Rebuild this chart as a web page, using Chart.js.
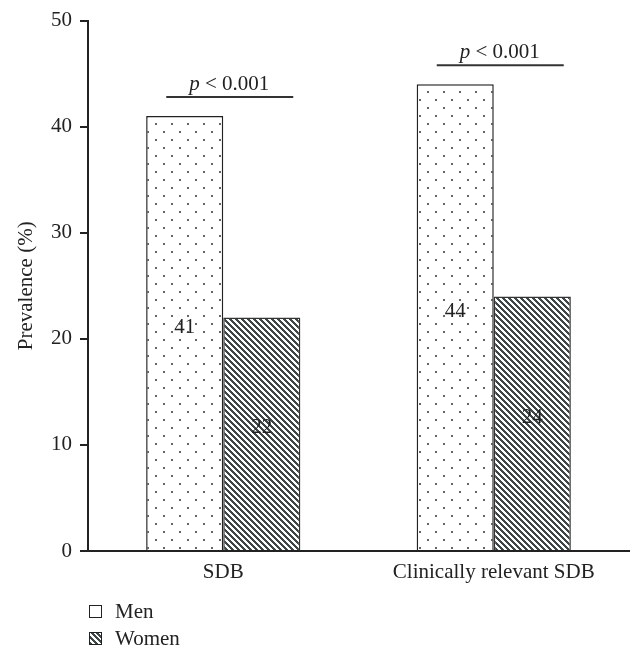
<!DOCTYPE html>
<html>
<head>
<meta charset="utf-8">
<script src="https://cdn.jsdelivr.net/npm/chart.js@4/dist/chart.umd.min.js"></script>
<style>
    html, body { margin: 0; padding: 0; background: #fff; }
    #wrap { position: relative; width: 643px; height: 660px; }
    #legend { position: absolute; left: 89px; top: 598px; font-family: "Liberation Serif", serif; font-size: 21px; color: #222; }
    .item { display: flex; align-items: center; height: 27px; }
    .box { width: 11px; height: 11px; border: 1px solid #222; margin-right: 13px; }
    .men { background: #fff; }
    .women { background: repeating-linear-gradient(45deg, #3d4747 0 2px, #fff 2px 4px); }
</style>
</head>
<body>
<div id="wrap">
    <canvas id="chart" width="643" height="660"></canvas>
    <div id="legend">
        <div class="item"><span class="box men"></span>Men</div>
        <div class="item"><span class="box women"></span>Women</div>
    </div>
</div>
<script>
const categories = ["SDB", "Clinically relevant SDB"];
const menValues = [41, 44];
const womenValues = [22, 24];
const pLabels = ["< 0.001", "< 0.001"];
const yTicks = [0, 10, 20, 30, 40, 50];

const FONT = "'Liberation Serif', 'Times New Roman', serif";

// dotted fill for men
function dotPattern() {
    const c = document.createElement("canvas");
    c.width = 16;
    c.height = 16;
    const g = c.getContext("2d");
    g.fillStyle = "#fff";
    g.fillRect(0, 0, 16, 16);
    g.fillStyle = "#666";
    g.fillRect(3, 3, 2, 2);
    g.fillRect(11, 11, 2, 2);
    return g.createPattern(c, "repeat");
}

// diagonal stripes for women
function stripePattern() {
    const c = document.createElement("canvas");
    c.width = 6;
    c.height = 6;
    const g = c.getContext("2d");
    const img = g.createImageData(6, 6);
    for (let y = 0; y < 6; y++) {
        for (let x = 0; x < 6; x++) {
            const dark = ((x - y + 36) % 6) < 3;
            const i = (y * 6 + x) * 4;
            img.data[i] = dark ? 0x3d : 255;
            img.data[i + 1] = dark ? 0x47 : 255;
            img.data[i + 2] = dark ? 0x47 : 255;
            img.data[i + 3] = 255;
        }
    }
    g.putImageData(img, 0, 0);
    return g.createPattern(c, "repeat");
}

const extras = {
    id: "extras",
    afterDatasetsDraw(chart) {
        const ctx = chart.ctx;
        const xs = chart.scales.x;
        const ys = chart.scales.y;
        ctx.save();
        ctx.font = "21px " + FONT;
        ctx.fillStyle = "#222";
        ctx.textAlign = "center";
        ctx.textBaseline = "middle";
        // values inside bars
        chart.data.datasets.forEach((ds, di) => {
            chart.getDatasetMeta(di).data.forEach((bar, i) => {
                const mid = (bar.y + bar.base) / 2 - 6;
                ctx.fillText(String(ds.data[i]), bar.x, mid);
            });
        });
        // p value brackets
        categories.forEach((c, i) => {
            const cx = xs.getPixelForValue(i);
            const top = Math.max(menValues[i], womenValues[i]);
            const ly = ys.getPixelForValue(top) - 19;
            ctx.strokeStyle = "#333";
            ctx.lineWidth = 2;
            ctx.beginPath();
            ctx.moveTo(cx - 57, ly);
            ctx.lineTo(cx + 70, ly);
            ctx.stroke();
            const rest = " " + pLabels[i];
            ctx.font = "italic 21px " + FONT;
            const wp = ctx.measureText("p").width;
            ctx.font = "21px " + FONT;
            const wr = ctx.measureText(rest).width;
            const x0 = cx + 6 - (wp + wr) / 2;
            ctx.textAlign = "left";
            ctx.textBaseline = "alphabetic";
            ctx.font = "italic 21px " + FONT;
            ctx.fillText("p", x0, ly - 7);
            ctx.font = "21px " + FONT;
            ctx.fillText(rest, x0 + wp, ly - 7);
        });
        ctx.restore();
    },
};

new Chart(document.getElementById("chart"), {
    type: "bar",
    data: {
        labels: categories,
        datasets: [
            {
                label: "Men",
                data: menValues,
                backgroundColor: dotPattern(),
                borderColor: "#222",
                borderWidth: 1.5,
            },
            {
                label: "Women",
                data: womenValues,
                backgroundColor: stripePattern(),
                borderColor: "#333",
                borderWidth: 1.5,
            },
        ],
    },
    options: {
        responsive: false,
        animation: false,
        layout: { padding: { top: 20, right: 14, left: 0, bottom: 0 } },
        datasets: { bar: { barPercentage: 1, categoryPercentage: 0.57 } },
        plugins: {
            legend: { display: false },
            tooltip: { enabled: false },
        },
        scales: {
            x: {
                grid: { display: false },
                border: { color: "#222", width: 2 },
                ticks: { color: "#222", font: { family: FONT, size: 21 }, padding: 1 },
                afterFit: (s) => { s.height = 109; },
            },
            y: {
                min: 0,
                max: 50,
                afterBuildTicks: (s) => { s.ticks = yTicks.map((v) => ({ value: v })); },
                grid: { drawOnChartArea: false, tickLength: 8, color: "#222", lineWidth: 2 },
                border: { color: "#222", width: 2 },
                ticks: { color: "#222", font: { family: FONT, size: 21 }, padding: 8 },
                title: {
                    display: true,
                    text: "Prevalence (%)",
                    color: "#222",
                    font: { family: FONT, size: 21 },
                    padding: { top: 14, bottom: 0 },
                },
                afterFit: (s) => { s.width = 88; },
            },
        },
    },
    plugins: [extras],
});
</script>
</body>
</html>
